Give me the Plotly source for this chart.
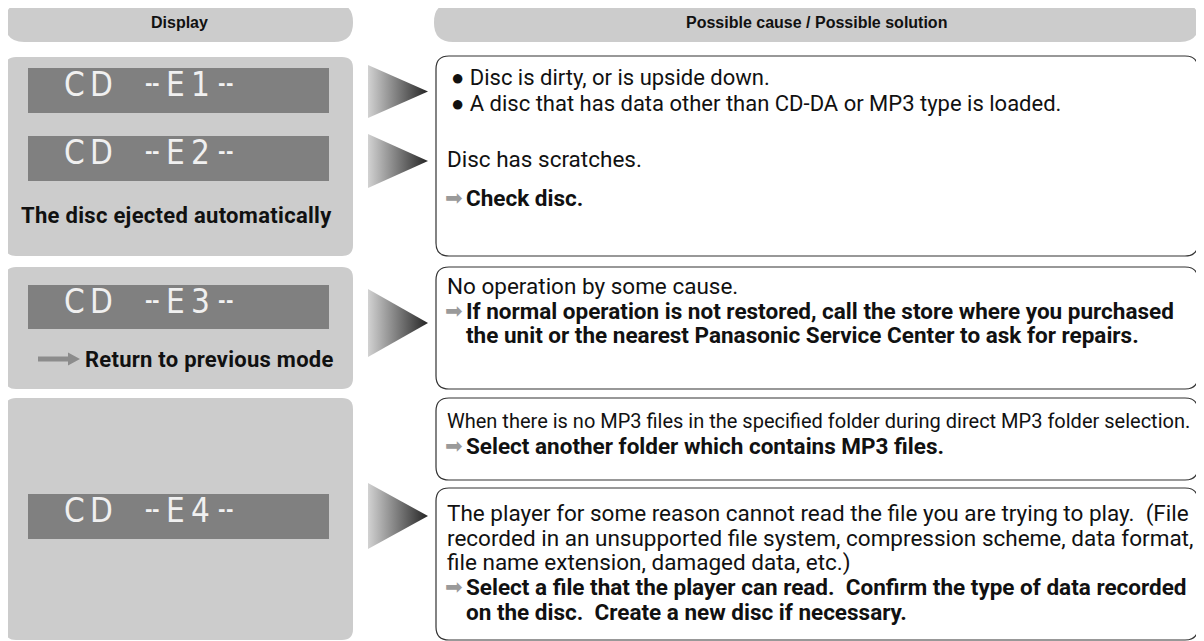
import plotly.graph_objects as go

# ---------------- data (text content) ----------------
headers = ["Display", "Possible cause / Possible solution"]
lcd_texts = ["CD --E1--", "CD --E2--", "CD --E3--", "CD --E4--"]
left_notes = ["The disc ejected automatically", "Return to previous mode"]

cause_box_1 = [("bullet", "Disc is dirty, or is upside down."),
               ("bullet", "A disc that has data other than CD-DA or MP3 type is loaded."),
               ("normal", "Disc has scratches."),
               ("action", "Check disc.")]
cause_box_2 = [("normal", "No operation by some cause."),
               ("action", "If normal operation is not restored, call the store where you purchased"),
               ("cont", "the unit or the nearest Panasonic Service Center to ask for repairs.")]
cause_box_3 = [("small", "When there is no MP3 files in the specified folder during direct MP3 folder selection."),
               ("action", "Select another folder which contains MP3 files.")]
cause_box_4 = [("normal", "The player for some reason cannot read the file you are trying to play.\u00a0 (File"),
               ("normal", "recorded in an unsupported file system, compression scheme, data format,"),
               ("normal", "file name extension, damaged data, etc.)"),
               ("action", "Select a file that the player can read.\u00a0 Confirm the type of data recorded"),
               ("cont", "on the disc.\u00a0 Create a new disc if necessary.")]
cause_boxes = [cause_box_1, cause_box_2, cause_box_3, cause_box_4]

# ---------------- layout geometry (page pixels) ----------------
PAGE_W, PAGE_H = 1204, 641
OFF = 8  # default body margin of the html page
BODY = "Roboto, Liberation Sans, Arial, sans-serif"
WIDE = "Liberation Sans, Arial, Helvetica, sans-serif"
LCDF = "DejaVu Sans Condensed, DejaVu Sans, sans-serif"
PANEL = "#cccccc"
LCD_BG = "#808080"

header_boxes = [(5, 3, 353, 42), (434, 3, 1199, 42)]
left_panels = [(5, 57, 353, 256), (5, 267, 353, 389), (5, 398, 353, 640)]
lcd_boxes = [(28, 68, 329, 113), (28, 136, 329, 181), (28, 285, 329, 329), (28, 494, 329, 539)]
right_boxes = [(436, 56, 1198, 256), (436, 267, 1198, 389), (436, 398, 1198, 480), (436, 488, 1198, 640)]
triangles = [(368, 428, 65, 118), (368, 428, 134, 188), (368, 428, 289, 357), (368, 428, 483, 549)]
line_y = [[77, 103, 159, 198], [286, 311, 335], [421, 446], [513, 538, 562, 587, 612]]

fig = go.Figure()


def rrect(x0, y0, x1, y1, r):
    return (f"M{x0+r},{y0} L{x1-r},{y0} Q{x1},{y0} {x1},{y0+r} L{x1},{y1-r} "
            f"Q{x1},{y1} {x1-r},{y1} L{x0+r},{y1} Q{x0},{y1} {x0},{y1-r} "
            f"L{x0},{y0+r} Q{x0},{y0} {x0+r},{y0} Z")


def shape_path(path, fill, line_color=None, lw=0):
    fig.add_shape(type="path", path=path, xref="x", yref="y", fillcolor=fill,
                  line=dict(color=line_color or "rgba(0,0,0,0)", width=lw), layer="below")


def txt(x, y, s, size, color="#111111", family=BODY, xanchor="left", ls=None):
    if ls:
        s = f'<span style="letter-spacing:{ls}px">{s}</span>'
    fig.add_annotation(x=x, y=y, xref="x", yref="y", text=s, showarrow=False,
                       xanchor=xanchor, yanchor="middle", borderpad=0,
                       font=dict(family=family, size=size, color=color))


# headers
for (x0, y0, x1, y1), h in zip(header_boxes, headers):
    shape_path(rrect(x0, y0, x1, y1, 19), PANEL)
    txt((x0 + x1) / 2, (y0 + y1) / 2, f"<b>{h}</b>", 16, "#111111", WIDE, "center")

# left panels
for b in left_panels:
    shape_path(rrect(*b, 11), PANEL)

# LCD displays
char_x = [74, 101, 148, 155, 175, 211, 221, 229]
for (x0, y0, x1, y1), code in zip(lcd_boxes, lcd_texts):
    fig.add_shape(type="rect", x0=x0, y0=y0, x1=x1, y1=y1, xref="x", yref="y",
                  fillcolor=LCD_BG, line=dict(width=0), layer="below")
    chars = [c for c in code if c != " "]
    yc = (y0 + y1) / 2 - 6
    for i, (c, cx) in enumerate(zip(chars, char_x)):
        if c == "-":
            txt(cx, yc - 1.5, "<b>-</b>", 20, "#f2f2f2", LCDF, "center")
        elif i == 5:
            txt(cx, yc, c, 33, "#f0f0f0", LCDF, "right")
        else:
            txt(cx, yc, c, 33, "#f0f0f0", LCDF, "center")

# left notes
txt(176, 215, f"<b>{left_notes[0]}</b>", 22, "#111111", BODY, "center", ls=0.3)
shape_path("M38,356.5 L68,356.5 L68,352.5 L80,359 L68,365.5 L68,361.5 L38,361.5 Z", "#8c8c8c")
txt(84, 359, f"<b>{left_notes[1]}</b>", 22, "#111111", BODY, "left", ls=0.25)

# gradient triangles
for (x0, x1, y0, y1) in triangles:
    fig.add_trace(go.Scatter(x=[x0, x1, x0, x0], y=[y0, (y0 + y1) / 2, y1, y0],
                             mode="lines", fill="toself",
                             fillgradient=dict(type="horizontal",
                                               colorscale=[[0, "#d2d2d2"], [1, "#252525"]]),
                             line=dict(width=0, color="rgba(0,0,0,0)"),
                             hoverinfo="skip", showlegend=False))

# right boxes with text
for b, lines, ys in zip(right_boxes, cause_boxes, line_y):
    shape_path(rrect(*b, 13), "#ffffff", "#333333", 1.2)
    for (kind, s), y in zip(lines, ys):
        if kind == "bullet":
            txt(450, y, "\u25cf " + s, 22, "#111111", BODY, "left")
        elif kind == "normal":
            txt(446, y, s, 22.5, "#111111", BODY, "left")
        elif kind == "small":
            txt(446, y, s, 20, "#111111", BODY, "left")
        elif kind == "action":
            txt(444, y, "\u27a1", 21, "#9a9a9a", "DejaVu Sans", "left")
            txt(465, y, f"<b>{s}</b>", 22.5, "#111111", BODY, "left")
        else:
            txt(465, y, f"<b>{s}</b>", 22.5, "#111111", BODY, "left")

fig.update_layout(
    width=PAGE_W - OFF, height=PAGE_H - OFF, margin=dict(l=0, r=0, t=0, b=0),
    paper_bgcolor="#ffffff", plot_bgcolor="#ffffff",
    xaxis=dict(range=[OFF, PAGE_W], visible=False, fixedrange=True),
    yaxis=dict(range=[PAGE_H, OFF], visible=False, fixedrange=True),
    showlegend=False,
)
fig.write_html("out.html")
